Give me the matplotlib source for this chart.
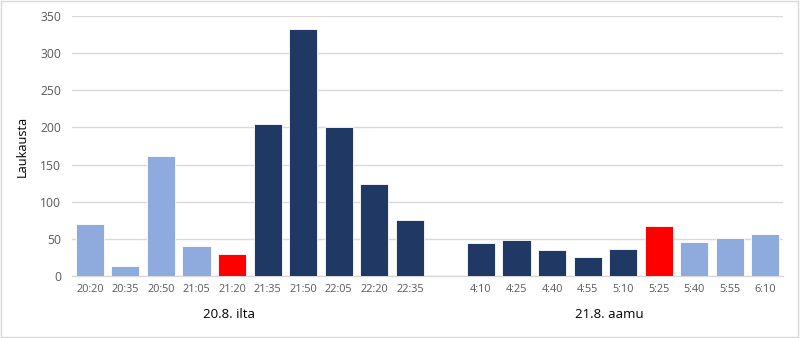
import matplotlib
matplotlib.use("Agg")
import matplotlib.pyplot as plt
from matplotlib.patches import Rectangle
import matplotlib.transforms as mtransforms

evening_labels = ["20:20", "20:35", "20:50", "21:05", "21:20", "21:35", "21:50", "22:05", "22:20", "22:35"]
evening_values = [70, 14, 162, 41, 30, 204, 332, 201, 124, 75]
evening_kind = ["light", "light", "light", "light", "red", "dark", "dark", "dark", "dark", "dark"]

morning_labels = ["4:10", "4:25", "4:40", "4:55", "5:10", "5:25", "5:40", "5:55", "6:10"]
morning_values = [45, 49, 35, 25, 37, 67, 46, 51, 57]
morning_kind = ["dark", "dark", "dark", "dark", "dark", "red", "light", "light", "light"]

group_labels = ["20.8. ilta", "21.8. aamu"]
y_label = "Laukausta"

colors = {"light": "#8FAADC", "dark": "#203864", "red": "#FF0000"}
text_color = "#595959"
plt.rcParams['font.family'] = ['Open Sans', 'DejaVu Sans']

labels = evening_labels + [""] + morning_labels
values = evening_values + [0] + morning_values
kinds = evening_kind + [None] + morning_kind
xs = list(range(len(labels)))

fig = plt.figure(figsize=(8, 3.38), dpi=100)
ax = fig.add_axes([0.09, 0.1834, 0.889, 0.7693])

for x, v, k in zip(xs, values, kinds):
    if k is None:
        continue
    ax.bar(x, v, width=0.79, color=colors[k], edgecolor="white", linewidth=0.6, zorder=3)

ax.set_xlim(-0.5, len(labels) - 0.5)
ax.set_ylim(0, 350)
ax.set_yticks(range(0, 351, 50))
ax.set_xticks(xs)
ax.set_xticklabels(labels, fontsize=7.8, color=text_color)
ax.tick_params(axis='x', length=0, pad=6)
ax.tick_params(axis='y', length=0, pad=8, labelsize=8.7, labelcolor=text_color)
ax.yaxis.grid(True, color="#D9D9D9", linewidth=1.0, zorder=0)
for s in ["top", "right", "left"]:
    ax.spines[s].set_visible(False)
ax.spines["bottom"].set_color("#D9D9D9")
ax.spines["bottom"].set_linewidth(1.0)
ax.set_ylabel(y_label, fontsize=9.2, color="#000000", labelpad=8)

trans = mtransforms.blended_transform_factory(ax.transData, fig.transFigure)
ax.text(3.92, 1 - 315 / 338, group_labels[0], transform=trans, ha="center", va="center",
        fontsize=9.5, color="#000000")
ax.text(14.6, 1 - 315 / 338, group_labels[1], transform=trans, ha="center", va="center",
        fontsize=9.5, color="#000000")

fig.patches.append(Rectangle((0.001, 0.002), 0.997, 0.995, transform=fig.transFigure,
                             fill=False, edgecolor="#D9D9D9", linewidth=1.0))

fig.savefig("out.png", dpi=100, facecolor="white")
